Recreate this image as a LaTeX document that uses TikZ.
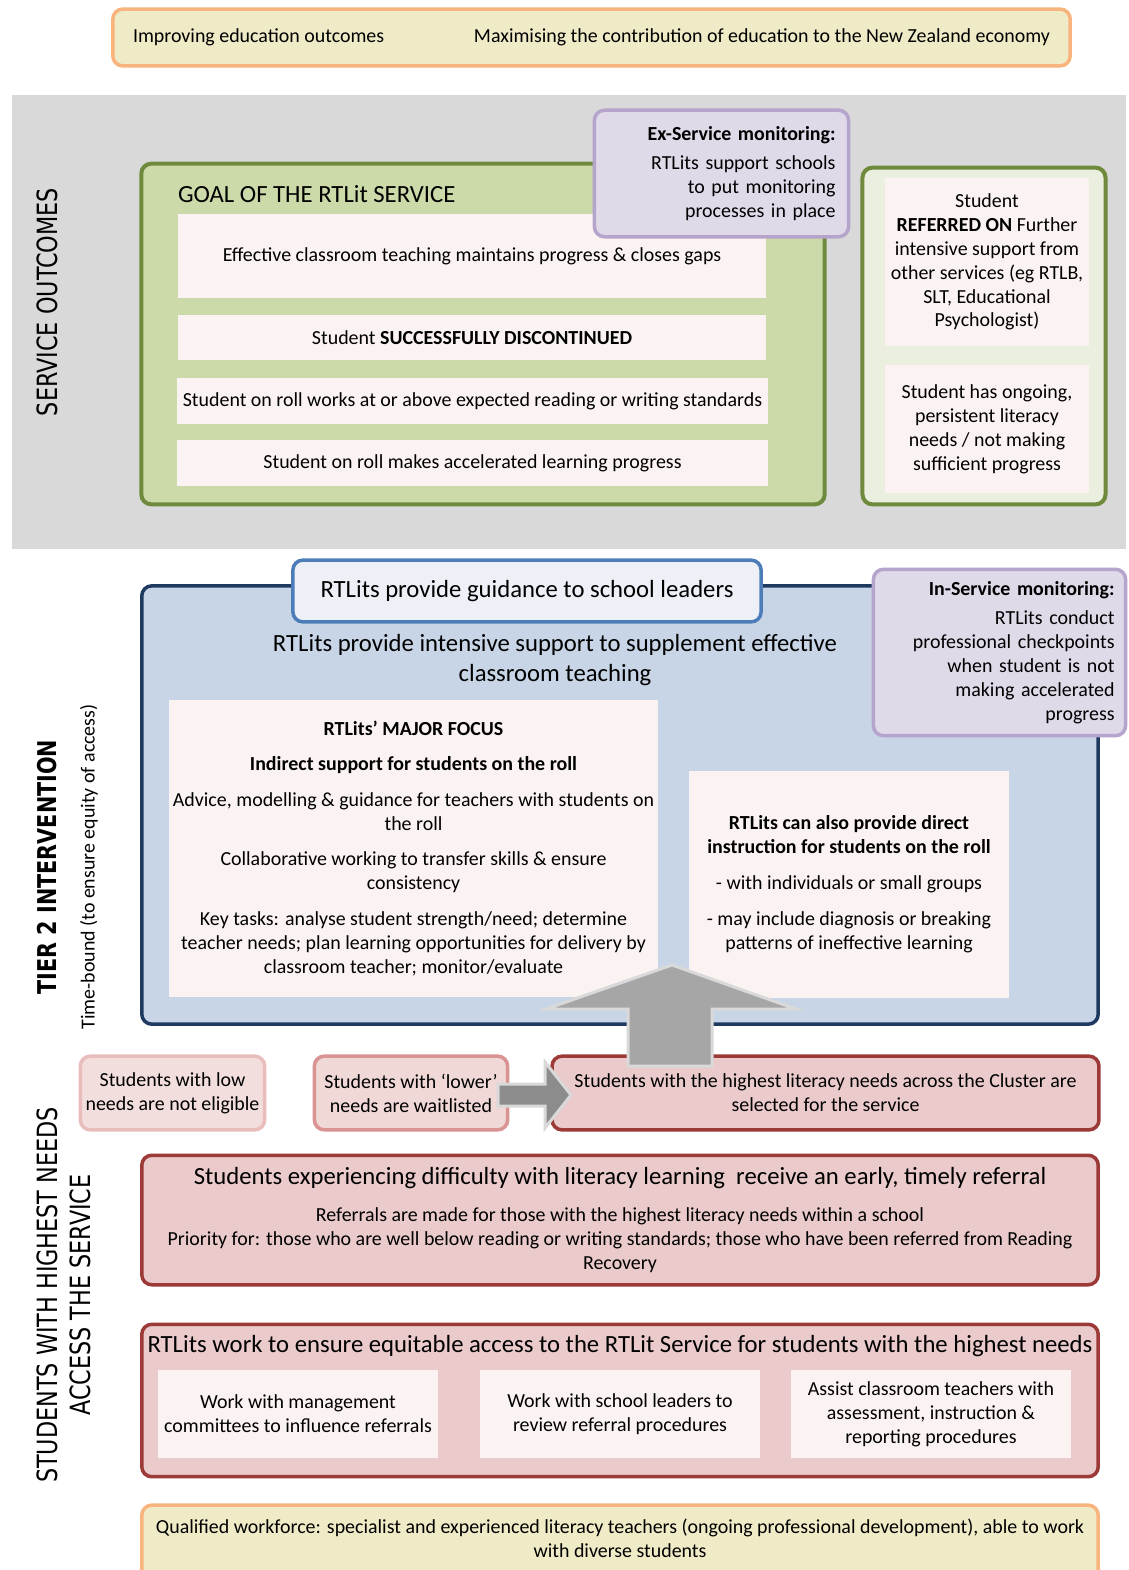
\documentclass[tikz,border=0pt]{standalone}
\usepackage{fontspec}
\setmainfont{Carlito}
\newfontfamily\sidefont[FakeStretch=0.8]{DejaVu Sans}
\newcommand\fsz[2]{\fontsize{#1}{#2}\selectfont}
\definecolor{yelC}{HTML}{EFEBC7}
\definecolor{orangeC}{HTML}{F9B47E}
\definecolor{bandC}{HTML}{D9D9D9}
\definecolor{greenC}{HTML}{CCDAA9}
\definecolor{greenEdge}{HTML}{6F8A3C}
\definecolor{greenLight}{HTML}{EBEFDF}
\definecolor{paleC}{HTML}{FBF3F2}
\definecolor{purpleC}{HTML}{DFD9E8}
\definecolor{purpleEdge}{HTML}{B5A4CB}
\definecolor{blueC}{HTML}{C7D5E6}
\definecolor{blueEdge}{HTML}{1F3A60}
\definecolor{guideC}{HTML}{EDF0F6}
\definecolor{guideEdge}{HTML}{4D7DB8}
\definecolor{pinkLow}{HTML}{F2DEDD}
\definecolor{pinkLowEdge}{HTML}{E8BDBC}
\definecolor{pinkMid}{HTML}{F0D8D7}
\definecolor{pinkMidEdge}{HTML}{D99392}
\definecolor{pinkC}{HTML}{EACACA}
\definecolor{redEdge}{HTML}{9B3A36}
\definecolor{arrowC}{HTML}{A6A6A6}
\definecolor{arrowDark}{HTML}{8C8C8C}
\definecolor{arrowEdge}{HTML}{D9D9D9}
\tikzset{
  every node/.style={inner sep=0pt, outer sep=0pt},
  body/.style={font=\fsz{20}{24}, align=center},
  big/.style={font=\fsz{24.8}{30}, align=center},
  side/.style={font=\sidefont\fsz{28}{33}, align=center},
  pale/.style={fill=paleC},
  yelbox/.style={rounded corners=10bp, fill=yelC, draw=orangeC, line width=3.5bp},
  greenbox/.style={rounded corners=10bp, draw=greenEdge, line width=4bp},
  purplebox/.style={rounded corners=10bp, fill=purpleC, draw=purpleEdge, line width=3.5bp},
  bluebox/.style={rounded corners=10bp, fill=blueC, draw=blueEdge, line width=3.5bp},
  guidebox/.style={rounded corners=10bp, fill=guideC, draw=guideEdge, line width=3.5bp},
  lowbox/.style={rounded corners=10bp, fill=pinkLow, draw=pinkLowEdge, line width=3.5bp},
  midbox/.style={rounded corners=10bp, fill=pinkMid, draw=pinkMidEdge, line width=3.5bp},
  redbox/.style={rounded corners=10bp, fill=pinkC, draw=redEdge, line width=3.5bp},
  blockarrow/.style={draw=arrowEdge, line width=3bp, line join=miter}
}
\begin{document}
\begin{tikzpicture}[x=1bp,y=-1bp]
\useasboundingbox (0,0) rectangle (1128,1570);
\fill[white] (0,0) rectangle (1128,1570);

% ---------- top banner
\node[yelbox, minimum width=961, minimum height=57] (top) at (591.5,37.5) {};
\node[body, anchor=west] (top1) at (133,37) {Improving education outcomes};
\node[body, anchor=east] (top2) at (1050,37) {Maximising the contribution of education to the New Zealand economy};

% ---------- service outcomes band
\node[fill=bandC, minimum width=1118, minimum height=456] (band) at (569,322) {};
\node[side, rotate=90] (so) at (47,302) {SERVICE OUTCOMES};

\node[greenbox, fill=greenC, minimum width=686, minimum height=342] (goal) at (483,334) {};
\node[big, anchor=west] (goaltitle) at (178,194) {GOAL OF THE RTLit SERVICE};
\node[pale, body, minimum width=590, minimum height=84] (g1) at (472,256) {Effective classroom teaching maintains progress \& closes gaps};
\node[pale, body, minimum width=590, minimum height=45] (g2) at (472,337.5) {Student \textbf{SUCCESSFULLY DISCONTINUED}};
\node[pale, body, minimum width=593, minimum height=46] (g3) at (472.5,401) {Student on roll works at or above expected reading or writing standards};
\node[pale, body, minimum width=593, minimum height=46] (g4) at (472.5,463) {Student on roll makes accelerated learning progress};

\node[purplebox, minimum width=255, minimum height=127, text width=229, inner xsep=13bp, align=right, font=\fsz{20}{24}] (exs) at (721.5,173.5) {\textbf{Ex-Service monitoring:}\\[6bp]RTLits support schools\\to put monitoring\\processes in place};

\node[greenbox, fill=greenLight, minimum width=244, minimum height=338] (refbox) at (984,336) {};
\node[pale, body, minimum width=204, minimum height=168] (r1) at (987,262) {Student\\\textbf{REFERRED ON} Further\\intensive support from\\other services (eg RTLB,\\SLT, Educational\\Psychologist)};
\node[pale, body, minimum width=204, minimum height=128] (r2) at (987,429) {Student has ongoing,\\persistent literacy\\needs / not making\\sufficient progress};

% ---------- tier 2
\node[side, font=\sidefont\bfseries\fsz{26}{30}, rotate=90] (tier2) at (47,867) {TIER 2 INTERVENTION};
\node[body, rotate=90] (timeb) at (89,867) {Time-bound (to ensure equity of access)};

\node[bluebox, minimum width=960, minimum height=440] (tier) at (620,805) {};
\node[guidebox, minimum width=470, minimum height=62, big] (guide) at (527,591) {RTLits provide guidance to school leaders};
\node[big] (intens) at (555,660) {RTLits provide intensive support to supplement effective\\classroom teaching};
\node[pale, body, minimum width=491, minimum height=299] (focus) at (413.5,848.5) {\textbf{RTLits’ MAJOR FOCUS}\\[11bp]\textbf{Indirect support for students on the roll}\\[12bp]Advice, modelling \& guidance for teachers with students on\\the roll\\[12bp]Collaborative working to transfer skills \& ensure\\consistency\\[12bp]Key tasks: analyse student strength/need; determine\\teacher needs; plan learning opportunities for delivery by\\classroom teacher; monitor/evaluate};
\node[pale, body, minimum width=322, minimum height=227] (direct) at (849,884.5) {\textbf{RTLits can also provide direct}\\\textbf{instruction for students on the roll}\\[12bp]- with individuals or small groups\\[12bp]- may include diagnosis or breaking\\patterns of ineffective learning};
\node[purplebox, minimum width=253, minimum height=167, text width=231, inner xsep=11bp, align=right, font=\fsz{20}{24}] (ins) at (999.5,652.5) {\textbf{In-Service monitoring:}\\[5bp]RTLits conduct\\professional checkpoints\\when student is not\\making accelerated\\progress};

% ---------- access
\node[side, rotate=90] (acc) at (63.5,1295) {STUDENTS WITH HIGHEST NEEDS\\ACCESS THE SERVICE};

\node[lowbox, body, minimum width=185, minimum height=74] (low) at (172.5,1093) {Students with low\\needs are not eligible};
\node[midbox, body, minimum width=194, minimum height=74] (lower) at (411,1093) {Students with ‘lower’\\needs are waitlisted};
\node[redbox, body, minimum width=549, minimum height=74] (high) at (825.5,1093) {Students with the highest literacy needs across the Cluster are\\selected for the service};

\filldraw[blockarrow, fill=arrowDark] (498,1084) -- (545,1084) -- (545,1062) -- (571,1095) -- (545,1128) -- (545,1106) -- (498,1106) -- cycle;
\filldraw[blockarrow, fill=arrowC] (628,1066) -- (628,1009) -- (546,1009) -- (672,965) -- (796,1009) -- (712,1009) -- (712,1066) -- cycle;

\node[redbox, minimum width=960, minimum height=130] (refer) at (620,1220) {};
\node[big] (refertitle) at (620,1178) {Students experiencing difficulty with literacy learning\ \ receive an early, timely referral};
\node[body] (refertext) at (620,1240) {Referrals are made for those with the highest literacy needs within a school\\Priority for: those who are well below reading or writing standards; those who have been referred from Reading\\Recovery};

\node[redbox, minimum width=960, minimum height=153] (equity) at (620,1400.5) {};
\node[big] (equitytitle) at (620,1346) {RTLits work to ensure equitable access to the RTLit Service for students with the highest needs};
\node[pale, body, minimum width=282, minimum height=88] (e1) at (298,1414) {Work with management\\committees to influence referrals};
\node[pale, body, minimum width=282, minimum height=88] (e2) at (620,1414) {Work with school leaders to\\review referral procedures};
\node[pale, body, minimum width=282, minimum height=88] (e3) at (931,1414) {Assist classroom teachers with\\assessment, instruction \&\\reporting procedures};

\node[yelbox, minimum width=960, minimum height=80] (qual) at (620,1545) {};
\node[body] (qualtext) at (620,1538) {Qualified workforce: specialist and experienced literacy teachers (ongoing professional development), able to work\\with diverse students};
\end{tikzpicture}
\end{document}
